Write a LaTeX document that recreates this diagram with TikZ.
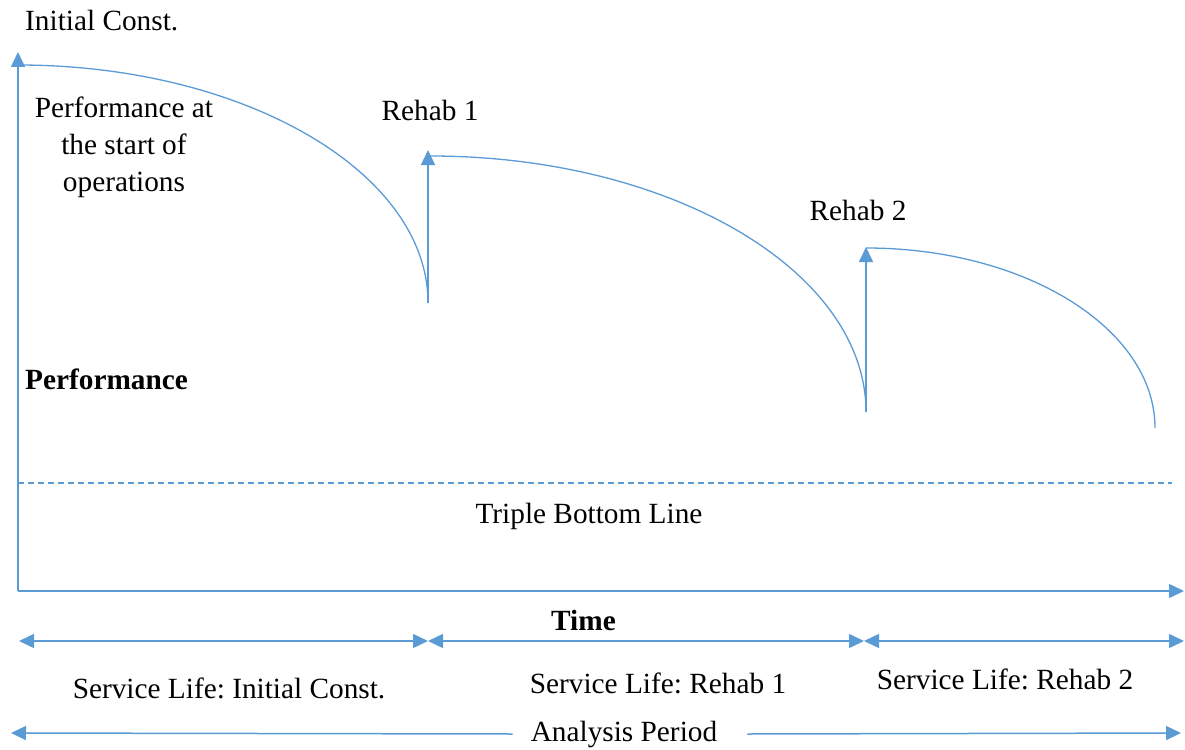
\documentclass[tikz,border=0pt]{standalone}
\usepackage{fontspec}
\setmainfont{Liberation Serif}
\usetikzlibrary{arrows.meta}
\definecolor{lineblue}{HTML}{5B9BD5}
\frenchspacing
\begin{document}
\begin{tikzpicture}[x=1pt,y=-1pt,
  every node/.style={font=\fontsize{29.3}{37}\selectfont, inner sep=0pt},
  axis/.style={draw=lineblue, line width=1.5pt},
  tip/.style={-{Triangle[length=15pt,width=14pt]}},
  twotip/.style={{Triangle[length=15pt,width=14pt]}-{Triangle[length=15pt,width=14pt]}},
  perf/.style={draw=lineblue, line width=1.3pt},
  label/.style={align=center}]
\useasboundingbox (0,0) rectangle (1185,749);

% axes
\coordinate (origin) at (18,591);
\coordinate (ytop) at (18,52);
\coordinate (xend) at (1184,591);
\draw[axis,tip] (origin) -- (ytop);
\draw[axis,tip] (origin) -- (xend);

% performance threshold
\coordinate (tbl0) at (18,483);
\coordinate (tbl1) at (1172,483);
\draw[draw=lineblue, line width=1.2pt, dash pattern=on 6pt off 4pt] (tbl0) -- (tbl1);

% deterioration curves and rehabilitation jumps
\coordinate (c1s) at (18,65);
\coordinate (c1e) at (428,303);
\coordinate (r1top) at (428,150);
\coordinate (c2s) at (430,156);
\coordinate (c2e) at (866,412);
\coordinate (r2top) at (866,247);
\coordinate (c3s) at (866,248);
\coordinate (c3e) at (1155,428);

\draw[perf] (c1s) .. controls (244,65) and (428,172) .. (c1e);
\draw[axis,tip] (c1e) -- (r1top);
\draw[perf] (c2s) .. controls (671,156) and (866,271) .. (c2e);
\draw[axis,tip] (c2e) -- (r2top);
\draw[perf] (c3s) .. controls (1026,248) and (1155,329) .. (c3e);

% service life spans
\coordinate (s0) at (19,641);
\coordinate (s1) at (428,641);
\coordinate (s2) at (864,641);
\coordinate (s3) at (1184,641);
\draw[axis,twotip] (s0) -- (s1);
\draw[axis,twotip] (s1) -- (s2);
\draw[axis,twotip] (s2) -- (s3);

% analysis period
\coordinate (a0) at (11,733);
\coordinate (a1) at (1181,733);
\node[inner xsep=18pt] (ap) at (624,734) {Analysis Period};
\draw[axis,tip] (ap.west) -- (a0);
\draw[axis,tip] ([xshift=12pt]ap.east) -- (a1);

% labels
\node[anchor=base west] (init) at (25,31) {Initial Const.};
\node[label] (start) at (124,147) {Performance at\\the start of\\operations};
\node (reh1) at (430,110) {Rehab 1};
\node (reh2) at (858,210) {Rehab 2};
\node[anchor=west, font=\fontsize{29.3}{37}\selectfont\bfseries] (perfl) at (25,379) {Performance};
\node (tbl) at (589,516) {Triple Bottom Line};
\node[anchor=south, fill=white, minimum width=107pt, minimum height=40pt,
      font=\fontsize{29.3}{37}\selectfont\bfseries] (time) at (583.5,640.3) {Time};
\node (sl0) at (229,688) {Service Life: Initial Const.};
\node (sl1) at (658,683) {Service Life: Rehab 1};
\node (sl2) at (1005,679) {Service Life: Rehab 2};
\end{tikzpicture}
\end{document}
